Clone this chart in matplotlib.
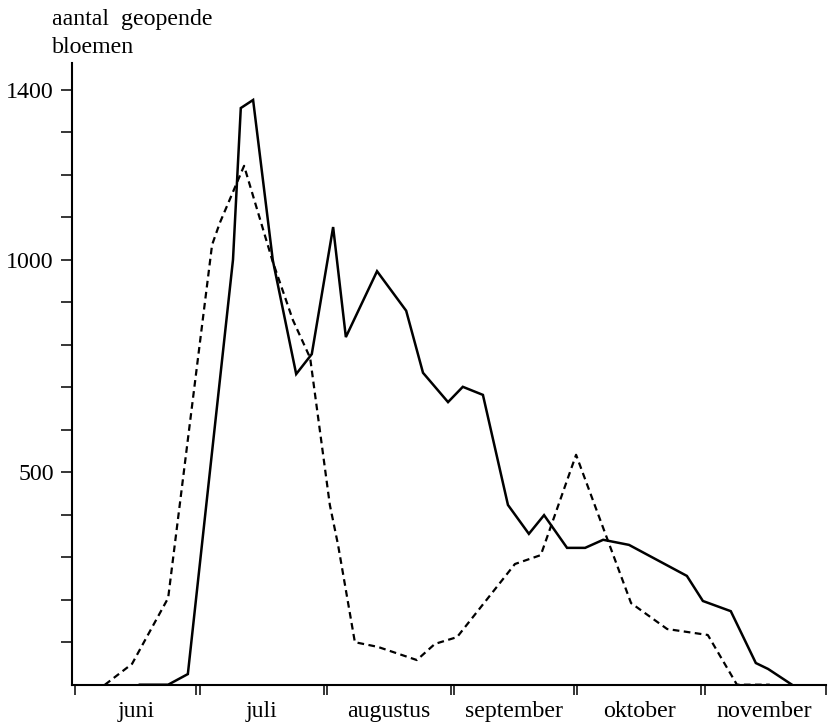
import matplotlib
matplotlib.use("Agg")
import matplotlib.pyplot as plt
from matplotlib.transforms import blended_transform_factory

plt.rcParams['font.family'] = ['Liberation Serif', 'DejaVu Serif']

# days counted from 1 June
solid_day = [15.8, 22.7, 27.5, 38.5, 40.4, 43.4, 48.2, 53.9, 57.7, 62.9, 66.0,
             73.6, 80.7, 84.8, 90.9, 94.5, 99.4, 105.5, 110.6, 114.3, 119.9,
             124.3, 128.7, 135.0, 149.1, 153.0, 159.8, 165.9, 168.9, 174.7]
solid_val = [0, 0, 25, 1000, 1357, 1376, 999, 731, 778, 1077, 818,
             973, 880, 734, 665, 701, 682, 423, 355, 399, 322,
             322, 341, 329, 256, 197, 173, 51, 37, 0]

dashed_day = [7.3, 13.9, 22.7, 33.4, 35.3, 41.2, 48.2, 53.1, 57.3, 62.1, 64.1,
              68.2, 73.8, 83.3, 87.7, 93.1, 107.2, 113.5, 122.1, 135.5, 144.3,
              154.2, 161.3, 169.3]
dashed_val = [0, 49, 204, 1035, 1087, 1221, 995, 858, 769, 423, 329,
              100, 89, 58, 96, 112, 284, 305, 541, 192, 131,
              117, 0, 0]

months = ['juni', 'juli', 'augustus', 'september', 'oktober', 'november']
month_bounds = [0, 30, 61, 92, 122, 153, 183]
y_ticks = [100, 200, 300, 400, 500, 600, 700, 800, 900, 1000, 1100, 1200, 1300, 1400]
y_labelled = [500, 1000, 1400]

FS = 17.2
W, H = 834, 725
fig = plt.figure(figsize=(W / 100, H / 100), dpi=100)
ax = fig.add_axes([72 / W, (H - 684.7) / H, (826 - 72) / W, (684.7 - 63) / H])

ax.plot(solid_day, solid_val, color='black', lw=1.8, solid_joinstyle='miter')
ax.plot(dashed_day, dashed_val, color='black', lw=1.6, linestyle=(0, (3, 2)))

ax.set_xlim(-0.73, 183)
ax.set_ylim(0, 1463)

for s in ['top', 'right']:
    ax.spines[s].set_visible(False)
for s in ['left', 'bottom']:
    ax.spines[s].set_linewidth(1.5)

ax.set_yticks(y_ticks)
ax.set_yticklabels([str(v) if v in y_labelled else '' for v in y_ticks])
ax.tick_params(axis='y', direction='out', length=8, width=1.1, pad=5, labelsize=FS)

xt = [month_bounds[0]]
for b in month_bounds[1:-1]:
    xt += [b - 0.4, b + 0.4]
xt.append(month_bounds[-1])
ax.set_xticks(xt)
ax.set_xticklabels([])
ax.tick_params(axis='x', direction='out', length=7, width=1.1)

tr = blended_transform_factory(ax.transData, ax.transAxes)
for i, m in enumerate(months):
    mid = (month_bounds[i] + month_bounds[i + 1]) / 2
    ax.text(mid, -32.3 / 621.7, m, transform=tr, ha='center', va='baseline', fontsize=FS)

fig.text(52 / W, 1 - 25 / H, 'aantal  geopende', ha='left', va='baseline', fontsize=FS)
fig.text(52 / W, 1 - 53 / H, 'bloemen', ha='left', va='baseline', fontsize=FS)

fig.savefig('out.png', dpi=100)
